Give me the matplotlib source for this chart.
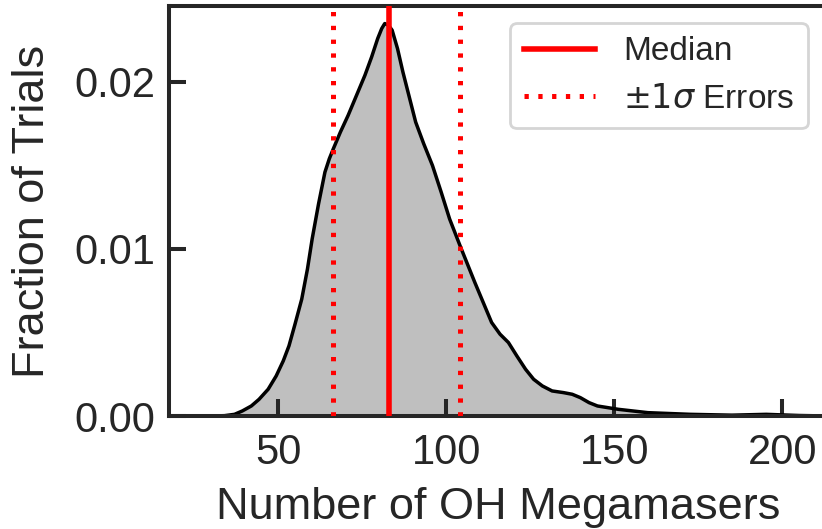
import matplotlib

matplotlib.use("Agg")
import matplotlib.pyplot as plt

# Distribution of the number of OH megamasers across trials
n_masers = [17.5, 30.0, 34.0, 37.0, 39.3, 42.0, 44.3, 47.0, 49.4, 51.5, 53.2, 55.0,
            57.0, 58.7, 60.1, 62.0, 63.9, 65.2, 66.4, 68.5, 70.8, 73.3, 75.8, 77.8,
            79.6, 80.8, 81.7, 82.8, 83.9, 85.5, 87.1, 89.0, 90.9, 93.3, 95.9,
            98.5, 101.0, 104.1, 106.3, 108.5, 111.0, 113.5, 116.0, 118.5, 121.0,
            123.6, 126.0, 128.6, 131.5, 134.9, 137.5, 139.9, 142.5, 145.0,
            151.2, 160.0, 172.6, 185.0, 195.2, 205.0, 213.6]
fraction = [0.0, 0.0, 0.00002, 0.0001, 0.0003, 0.0006, 0.0010, 0.0016, 0.0024,
            0.0033, 0.0042, 0.0055, 0.0070, 0.0088, 0.0106, 0.0127, 0.0146,
            0.0154, 0.0160, 0.0170, 0.0180, 0.0192, 0.0204, 0.0215, 0.0226,
            0.0232, 0.0235, 0.0234, 0.0231, 0.0220, 0.0206, 0.0191, 0.0176,
            0.0163, 0.0150, 0.0134, 0.0118, 0.0102, 0.0091, 0.0080, 0.0068,
            0.0056, 0.0049, 0.0044, 0.0036, 0.0028, 0.0022, 0.0018, 0.0015,
            0.0014, 0.0013, 0.0011, 0.0008, 0.0006, 0.0004, 0.0002, 0.0001,
            0.00005, 0.0001, 0.00003, 0.0]

median = 83.0
err_lo, err_hi = 66.4, 104.2

plt.rcParams["font.family"] = ["Liberation Sans", "DejaVu Sans"]
plt.rcParams["mathtext.fontset"] = "dejavusans"
dark = "#262626"
dotted = (0, (0.86, 1.9))

fig = plt.figure(figsize=(8.22, 5.29), dpi=100)
W, H = 822, 529
ax = fig.add_axes([169 / W, (H - 416) / H, (828 - 169) / W, (416 - 6) / H])

ax.fill_between(n_masers, fraction, color="#bfbfbf", lw=0, zorder=1)
ax.plot(n_masers, fraction, color="black", lw=2.5, solid_joinstyle="round", zorder=2)
ax.axvline(median, color="red", lw=4, label="Median", zorder=3)
ax.axvline(err_lo, color="red", lw=3.6, ls=dotted, label=r"$\pm1\sigma$ Errors", zorder=3)
ax.axvline(err_hi, color="red", lw=3.6, ls=dotted, zorder=3)

ax.set_xlim(17.5, 213.6)
ax.set_ylim(0, 0.02455)
ax.set_xticks([50, 100, 150, 200])
ax.set_yticks([0.0, 0.01, 0.02])
ax.set_yticklabels(["0.00", "0.01", "0.02"])

for s in ax.spines.values():
    s.set_color(dark)
    s.set_linewidth(2.9)
ax.tick_params(direction="in", length=12.5, width=2.9, color=dark, labelcolor=dark,
               labelsize=30, pad=10)
ax.tick_params(axis="x", pad=12)

ax.set_xlabel("Number of OH Megamasers", fontsize=32.5, color=dark, labelpad=10)
ax.set_ylabel("Fraction of Trials", fontsize=32.5, color=dark, labelpad=15)

# legend anchored in pixel coordinates (upper-right corner of the frame)
leg = ax.legend(loc="upper right", borderaxespad=0,
                fontsize=24, handlelength=2.15, handletextpad=0.84,
                framealpha=1, fancybox=True, edgecolor="#d5d5d5",
                borderpad=0.4, labelspacing=0.5)
leg.set_bbox_to_anchor((808, H - 23), transform=fig.dpi_scale_trans.inverted() + fig.dpi_scale_trans)
leg.get_frame().set_linewidth(2)
for t in leg.get_texts():
    t.set_color(dark)

fig.savefig("out.png", dpi=100)
